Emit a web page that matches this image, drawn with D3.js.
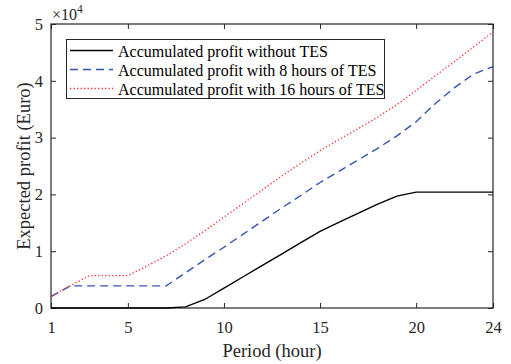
<!DOCTYPE html>
<html>
<head>
<meta charset="utf-8">
<script src="https://cdn.jsdelivr.net/npm/d3@7"></script>
<style>
  html, body { margin: 0; padding: 0; background: #fff; }
  svg { display: block; }
  text { font-family: "Liberation Serif", "Times New Roman", serif; fill: #262626; }
</style>
</head>
<body>
<svg id="chart" width="511" height="364"></svg>
<script>
// Period (hour)
const hours = [1,2,3,4,5,6,7,8,9,10,11,12,13,14,15,16,17,18,19,20,21,22,23,24];
// Accumulated expected profit (Euro)
const profitNoTES = [0,0,0,0,0,0,0,200,1500,3500,5500,7500,9500,11500,13500,15100,16700,18300,19700,20400,20400,20400,20400,20400];
const profitTES8  = [2000,3900,3900,3900,3900,3900,3900,6200,8500,10700,13000,15300,17600,19800,22100,24100,26100,28100,30300,32800,36000,38800,41200,42500];
const profitTES16 = [2000,3900,5700,5700,5700,7400,9200,11300,13600,16000,18400,20800,23200,25500,27700,29700,31600,33600,35800,38300,40900,43400,46000,48600];
const seriesNames = ["Accumulated profit without TES","Accumulated profit with 8 hours of TES","Accumulated profit with 16 hours of TES"];
const xTicks = [1,5,10,15,20,24];
const yTicks = [0,10000,20000,30000,40000,50000];
const yTickLabels = ["0","1","2","3","4","5"];
const xLabel = "Period (hour)";
const yLabel = "Expected profit (Euro)";

const svg = d3.select("#chart");
const L = 51, T = 24, R = 493, B = 308;
const axisColor = "#262626";

const x = d3.scaleLinear().domain([1,24]).range([L,R]);
const y = d3.scaleLinear().domain([0,50000]).range([B,T]);

// axes
const tick = 5;
const gx = svg.append("g").attr("transform",`translate(0,${B})`)
  .call(d3.axisBottom(x).tickValues(xTicks).tickFormat(d3.format("d")).tickSizeInner(-tick).tickSizeOuter(0).tickPadding(13));
const gxt = svg.append("g").attr("transform",`translate(0,${T})`)
  .call(d3.axisTop(x).tickValues(xTicks).tickFormat("").tickSizeInner(-tick).tickSizeOuter(0));
const gy = svg.append("g").attr("transform",`translate(${L},0)`)
  .call(d3.axisLeft(y).tickValues(yTicks).tickFormat((d,i)=>yTickLabels[i]).tickSizeInner(-tick).tickSizeOuter(0).tickPadding(8));
const gyr = svg.append("g").attr("transform",`translate(${R},0)`)
  .call(d3.axisRight(y).tickValues(yTicks).tickFormat("").tickSizeInner(-tick).tickSizeOuter(0));
[gx,gxt,gy,gyr].forEach(g=>{
  g.select(".domain").remove();
  g.selectAll(".tick line").attr("stroke",axisColor).attr("stroke-width",1);
  g.selectAll(".tick text").attr("fill",axisColor).style("font-size","16.5px").style("font-family","'Liberation Serif', serif");
});

// box
svg.append("rect").attr("x",L).attr("y",T).attr("width",R-L).attr("height",B-T)
  .attr("fill","none").attr("stroke",axisColor).attr("stroke-width",1.2);

// exponent
const ex = svg.append("text").attr("x",L+1).attr("y",20).style("font-size","16px");
ex.append("tspan").text("\u00d710");
ex.append("tspan").attr("dy",-7).style("font-size","11.5px").text("4");

// lines
const styles = [
  {data: profitNoTES, color: "#000000", dash: null, width: 1.4},
  {data: profitTES8,  color: "#3352b5", dash: "8,5", width: 1.4},
  {data: profitTES16, color: "#ff2a2a", dash: "1.3,2.2", width: 1.3}
];
const line = d3.line().x((d,i)=>x(hours[i])).y(d=>y(d));
styles.forEach(s=>{
  svg.append("path").datum(s.data).attr("d",line)
    .attr("fill","none").attr("stroke",s.color).attr("stroke-width",s.width)
    .attr("stroke-dasharray",s.dash);
});

// legend
const lg = svg.append("g");
lg.append("rect").attr("x",66.5).attr("y",39.5).attr("width",318).attr("height",59)
  .attr("fill","#fff").attr("stroke",axisColor).attr("stroke-width",1);
seriesNames.forEach((name,i)=>{
  const yy = 50.5 + i*19;
  lg.append("line").attr("x1",70).attr("x2",113).attr("y1",yy).attr("y2",yy)
    .attr("stroke",styles[i].color).attr("stroke-width",styles[i].width)
    .attr("stroke-dasharray",styles[i].dash);
  lg.append("text").attr("x",118).attr("y",yy+6).style("font-size","16px").attr("fill","#000").style("fill","#000").text(name);
});

// axis labels
svg.append("text").attr("x",(L+R)/2).attr("y",357).attr("text-anchor","middle")
  .style("font-size","18.5px").text(xLabel);
svg.append("text").attr("transform",`translate(30,${(T+B)/2}) rotate(-90)`).attr("text-anchor","middle")
  .style("font-size","18.5px").text(yLabel);
</script>
</body>
</html>
